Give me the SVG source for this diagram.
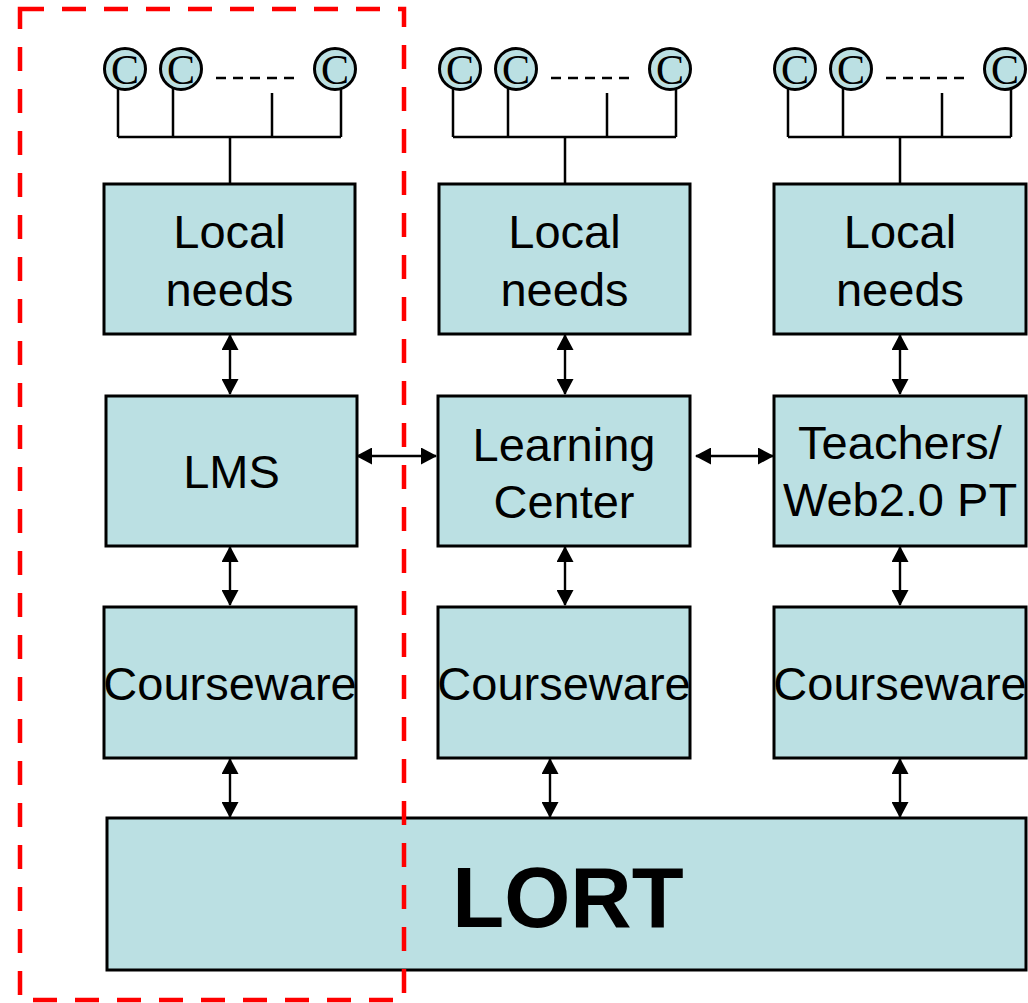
<svg xmlns="http://www.w3.org/2000/svg" width="1028" height="1003" viewBox="0 0 1028 1003">
<style>
.box{fill:#BBE0E3;stroke:#000;stroke-width:3}
.lbl{font-family:"Liberation Sans",Arial,sans-serif;font-size:47px;fill:#000;text-anchor:middle}
.big{font-family:"Liberation Sans",Arial,sans-serif;font-size:85px;font-weight:bold;fill:#000;text-anchor:middle}
.circ{fill:#BBE0E3;stroke:#000;stroke-width:3}
.cl{font-family:"Liberation Serif","Times New Roman",serif;font-size:42px;fill:#000;text-anchor:middle}
.tree{stroke:#000;stroke-width:2.5;fill:none}
.dots{stroke:#000;stroke-width:2.5;stroke-dasharray:10 7;fill:none}
.arr{stroke:#000;stroke-width:2.4;fill:none;marker-start:url(#ah);marker-end:url(#ah)}
.frame{fill:none;stroke:#FF0000;stroke-width:4.5;stroke-dasharray:24 18}
</style>
<defs>
<marker id="ah" viewBox="0 0 16 17" refX="15" refY="8.5" markerWidth="16" markerHeight="17" markerUnits="userSpaceOnUse" orient="auto-start-reverse">
<path d="M0,0 L16,8.5 L0,17 z" fill="#000"/>
</marker>
<g id="clients">
<path class="tree" d="M118,88 V137 M173,88 V137 M272,93 V137 M341,88 V137 M118,137 H341 M230,137 V184"/>
<path class="dots" d="M216,78 H300"/>
<circle class="circ" cx="125" cy="69" r="20.5"/>
<circle class="circ" cx="181" cy="69" r="20.5"/>
<circle class="circ" cx="335" cy="69" r="20.5"/>
<text class="cl" x="125" y="83.5">C</text>
<text class="cl" x="181" y="83.5">C</text>
<text class="cl" x="335" y="83.5">C</text>
</g>
</defs>

<g id="clients-1"><use href="#clients"/></g>
<g id="clients-2"><use href="#clients" x="335"/></g>
<g id="clients-3"><use href="#clients" x="670"/></g>

<g id="local-needs-1"><rect class="box" x="104" y="184" width="251" height="150"/><text class="lbl" x="229.5" y="248">Local</text><text class="lbl" x="229.5" y="306">needs</text></g>
<g id="local-needs-2"><rect class="box" x="439" y="184" width="251" height="150"/><text class="lbl" x="564.5" y="248">Local</text><text class="lbl" x="564.5" y="306">needs</text></g>
<g id="local-needs-3"><rect class="box" x="774" y="184" width="252" height="150"/><text class="lbl" x="900" y="248">Local</text><text class="lbl" x="900" y="306">needs</text></g>

<g id="lms"><rect class="box" x="106" y="396" width="251" height="150"/><text class="lbl" x="231.5" y="488">LMS</text></g>
<g id="learning-center"><rect class="box" x="438" y="396" width="252" height="150"/><text class="lbl" x="564" y="461">Learning</text><text class="lbl" x="564" y="518">Center</text></g>
<g id="teachers"><rect class="box" x="774" y="396" width="252" height="150"/><text class="lbl" x="900" y="459">Teachers/</text><text class="lbl" x="900" y="516">Web2.0 PT</text></g>

<g id="courseware-1"><rect class="box" x="104" y="607" width="252" height="151"/><text class="lbl" x="230" y="700">Courseware</text></g>
<g id="courseware-2"><rect class="box" x="438" y="607" width="252" height="151"/><text class="lbl" x="564" y="700">Courseware</text></g>
<g id="courseware-3"><rect class="box" x="774" y="607" width="252" height="151"/><text class="lbl" x="900" y="700">Courseware</text></g>

<g id="lort"><rect class="box" x="107" y="818" width="919" height="152"/><text class="big" x="568" y="927">LORT</text></g>

<g id="connectors">
<line class="arr" x1="230" y1="335" x2="230" y2="394"/>
<line class="arr" x1="230" y1="547" x2="230" y2="605"/>
<line class="arr" x1="230" y1="759" x2="230" y2="817"/>
<line class="arr" x1="565" y1="335" x2="565" y2="394"/>
<line class="arr" x1="565" y1="547" x2="565" y2="605"/>
<line class="arr" x1="550" y1="759" x2="550" y2="817"/>
<line class="arr" x1="900" y1="335" x2="900" y2="394"/>
<line class="arr" x1="900" y1="547" x2="900" y2="605"/>
<line class="arr" x1="900" y1="759" x2="900" y2="817"/>
<line class="arr" x1="357" y1="456" x2="436" y2="456"/>
<line class="arr" x1="696" y1="456" x2="773" y2="456"/>
</g>

<g id="scope-frame"><rect class="frame" x="20" y="9" width="384" height="991"/></g>
</svg>
